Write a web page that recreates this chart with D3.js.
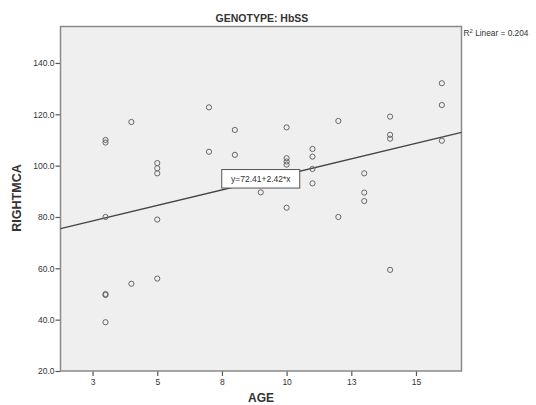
<!DOCTYPE html>
<html>
<head>
<meta charset="utf-8">
<script src="https://cdn.jsdelivr.net/npm/d3@7"></script>
<style>
  body { margin: 0; background: #fff; }
  text { font-family: "Liberation Sans", Arial, sans-serif; fill: #333; }
</style>
</head>
<body>
<svg id="chart" width="536" height="405"></svg>
<script>
// ages and RIGHTMCA readings
var ages = [3, 3, 3, 3, 3, 3,
    4, 4,
    5, 5, 5, 5, 5,
    7, 7,
    8, 8,
    9,
    10, 10, 10, 10, 10,
    11, 11, 11, 11,
    12, 12,
    13, 13, 13,
    14, 14, 14, 14,
    16, 16, 16]
var rightMca = [110, 109, 80, 50, 49.6, 39,
    117, 54,
    101, 99, 97, 79, 56,
    122.7, 105.4,
    113.9, 104.2,
    89.6,
    114.9, 102.9, 101.6, 100.4, 83.6,
    106.5, 103.5, 98.7, 93.1,
    117.4, 80,
    97, 89.5, 86.2,
    119.1, 112, 110.5, 59.4,
    132.1, 123.6, 109.7]

var xTicks = [2.5, 5, 7.5, 10, 12.5, 15]
var xTickLabels = ["3", "5", "8", "10", "13", "15"]
var yTicks = [20, 40, 60, 80, 100, 120, 140]

// fit line as printed on the chart
var intercept = 72.41
var slope = 2.42
var rSquared = 0.204
var title = "GENOTYPE: HbSS"

const margin = { left: 60.5, right: 74.5, top: 26.5, bottom: 34 }
const width = 536, height = 405

var svg = d3.select("#chart")

var x = d3.scaleLinear().domain([1.26, 16.76]).range([margin.left, width - margin.right])
var y = d3.scaleLinear().domain([20, 154.2]).range([height - margin.bottom, margin.top])

// plot background
svg.append("rect")
    .attr("x", margin.left).attr("y", margin.top)
    .attr("width", width - margin.left - margin.right)
    .attr("height", height - margin.top - margin.bottom)
    .attr("fill", "#efefef")

// axes
var xAxis = svg.append("g")
    .attr("transform", "translate(0," + (height - margin.bottom) + ")")
    .call(d3.axisBottom(x).tickValues(xTicks).tickSize(5).tickPadding(3)
        .tickFormat((d, i) => xTickLabels[i]))
var yAxis = svg.append("g")
    .attr("transform", "translate(" + margin.left + ",0)")
    .call(d3.axisLeft(y).tickValues(yTicks).tickSize(5).tickPadding(1)
        .tickFormat(d3.format(".1f")))

;[xAxis, yAxis].forEach(g => {
    g.select(".domain").remove()
    g.selectAll(".tick line").attr("stroke", "#555").attr("stroke-width", 1.2)
    g.selectAll(".tick text").attr("fill", "#444").style("font-size", "8.5px")
        .style("font-family", "Liberation Sans, Arial, sans-serif")
})

// frame
svg.append("rect")
    .attr("x", margin.left).attr("y", margin.top)
    .attr("width", width - margin.left - margin.right)
    .attr("height", height - margin.top - margin.bottom)
    .attr("fill", "none")
    .attr("stroke", "#8a8a8a")
    .attr("stroke-width", 1.5)

// regression line across the whole x range
var xd = x.domain()
svg.append("line")
    .attr("x1", x(xd[0])).attr("y1", y(intercept + slope * xd[0]))
    .attr("x2", x(xd[1])).attr("y2", y(intercept + slope * xd[1]))
    .attr("stroke", "#444")
    .attr("stroke-width", 1.4)

// points
svg.append("g").selectAll("circle")
    .data(ages.map((a, i) => [a, rightMca[i]]))
    .join("circle")
    .attr("cx", d => x(d[0]))
    .attr("cy", d => y(d[1]))
    .attr("r", 2.6)
    .attr("fill", "none")
    .attr("stroke", "#666")
    .attr("stroke-width", 1)

// equation label box
var eqX = 9.0
var eq = svg.append("g")
    .attr("transform", "translate(" + x(eqX) + "," + (y(intercept + slope * eqX) - 1.5) + ")")
eq.append("rect")
    .attr("x", -39).attr("y", -9.5)
    .attr("width", 78).attr("height", 18.5)
    .attr("fill", "#fff").attr("stroke", "#555").attr("stroke-width", 1)
eq.append("text")
    .attr("text-anchor", "middle").attr("y", 3)
    .style("font-size", "8.5px").attr("fill", "#444")
    .text("y=" + intercept + "+" + slope + "*x")

// R² label
svg.append("text")
    .attr("x", width - margin.right + 2).attr("y", 36)
    .style("font-size", "8.3px").attr("fill", "#444")
    .html("R<tspan dy='-3' font-size='6px'>2</tspan><tspan dy='3'> Linear = " + rSquared + "</tspan>")

// titles
svg.append("text")
    .attr("x", (margin.left + width - margin.right) / 2 + 1).attr("y", 22)
    .attr("text-anchor", "middle")
    .style("font-size", "10.5px").style("font-weight", "bold")
    .text(title)

svg.append("text")
    .attr("x", (margin.left + width - margin.right) / 2).attr("y", 402)
    .attr("text-anchor", "middle")
    .style("font-size", "12px").style("font-weight", "bold")
    .text("AGE")

svg.append("text")
    .attr("transform", "translate(21," + 198 + ") rotate(-90)")
    .attr("text-anchor", "middle")
    .style("font-size", "12.5px").style("font-weight", "bold")
    .text("RIGHTMCA")
</script>
</body>
</html>
